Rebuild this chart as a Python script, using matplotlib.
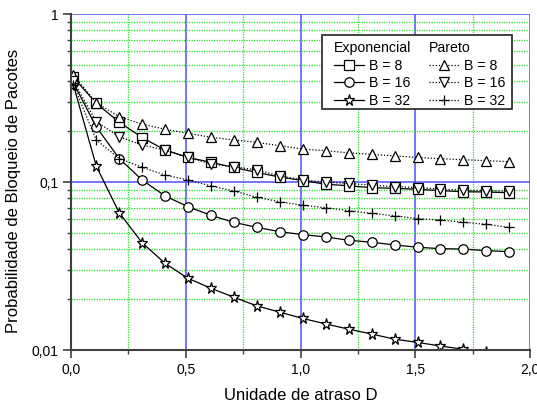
import matplotlib
matplotlib.use("Agg")
import matplotlib.pyplot as plt
from matplotlib.patches import Rectangle
from matplotlib.ticker import FixedLocator, NullFormatter

plt.rcParams['font.family'] = ['Liberation Sans', 'DejaVu Sans']

x = [0.01, 0.11, 0.21, 0.31, 0.41, 0.51, 0.61, 0.71, 0.81, 0.91,
     1.01, 1.11, 1.21, 1.31, 1.41, 1.51, 1.61, 1.71, 1.81, 1.91]

exp_b8 = [0.42, 0.294, 0.227, 0.184, 0.155, 0.140, 0.131, 0.122, 0.114, 0.107,
          0.102, 0.097, 0.095, 0.0925, 0.0917, 0.0905, 0.0888, 0.0875, 0.0872, 0.0863]
exp_b16 = [0.39, 0.213, 0.138, 0.1028, 0.0826, 0.0713, 0.0633, 0.0575, 0.0537, 0.0506,
           0.0486, 0.0471, 0.045, 0.0438, 0.0422, 0.0409, 0.0401, 0.0399, 0.039, 0.0385]
exp_b32 = [0.38, 0.1245, 0.0656, 0.0435, 0.0328, 0.0267, 0.0233, 0.0206, 0.0183, 0.0168,
           0.0154, 0.0143, 0.0133, 0.01245, 0.0116, 0.0111, 0.01056, 0.0101, 0.0097, 0.0094]

par_b8 = [0.435, 0.296, 0.245, 0.221, 0.206, 0.195, 0.1845, 0.178, 0.172, 0.1645,
          0.157, 0.1536, 0.149, 0.146, 0.143, 0.140, 0.1376, 0.1358, 0.134, 0.132]
par_b16 = [0.40, 0.229, 0.186, 0.166, 0.155, 0.140, 0.128, 0.123, 0.118, 0.1086,
           0.103, 0.100, 0.098, 0.0958, 0.094, 0.0926, 0.0909, 0.0895, 0.0888, 0.0880]
par_b32 = [0.38, 0.178, 0.138, 0.1223, 0.110, 0.1028, 0.0948, 0.0884, 0.081, 0.0763,
           0.0727, 0.0703, 0.0675, 0.065, 0.063, 0.0605, 0.0594, 0.0575, 0.056, 0.0537]

series_labels = ["B = 8", "B = 16", "B = 32"]
xticks = [0.0, 0.5, 1.0, 1.5, 2.0]
xticklabels = ["0,0", "0,5", "1,0", "1,5", "2,0"]
yticks = [0.01, 0.1, 1]
yticklabels = ["0,01", "0,1", "1"]

fig = plt.figure(figsize=(5.37, 4.04), dpi=100)
ax = fig.add_axes([71/537, 1-350/404, (530-71)/537, (350-14)/404])
ax.set_yscale('log')
ax.set_xlim(0, 2.0)
ax.set_ylim(0.01, 1)

ax.xaxis.set_major_locator(FixedLocator(xticks))
ax.set_xticklabels(xticklabels)
ax.xaxis.set_minor_locator(FixedLocator([0.25, 0.75, 1.25, 1.75]))
ax.yaxis.set_major_locator(FixedLocator(yticks))
ax.set_yticklabels(yticklabels)
ax.yaxis.set_minor_locator(FixedLocator([m * d for d in (0.01, 0.1) for m in range(2, 10)]))
ax.yaxis.set_minor_formatter(NullFormatter())

ax.grid(which='major', color='#5050ff', linestyle='-', linewidth=1.1)
ax.grid(which='minor', color='#22e022', linestyle=(0, (1, 1)), linewidth=0.9)
ax.set_axisbelow(True)

for s in ('top', 'right'):
    ax.spines[s].set_visible(False)
for s in ('left', 'bottom'):
    ax.spines[s].set_color('#404040')
    ax.spines[s].set_linewidth(1.5)
ax.tick_params(which='major', direction='out', length=6, width=1.2, color='#404040',
               labelsize=10, pad=3)
ax.tick_params(which='minor', direction='out', length=3, width=1.0, color='#404040')

ms = 6.8
common = dict(color='black', linewidth=0.9, markerfacecolor='white',
              markeredgecolor='black', markeredgewidth=0.9, markersize=ms)
dot = (0, (1, 1.5))
h1, = ax.plot(x, exp_b8, linestyle='-', marker='s', **common)
h2, = ax.plot(x, exp_b16, linestyle='-', marker='o', **common)
h3, = ax.plot(x, exp_b32, linestyle='-', marker='*', **dict(common, markersize=ms + 1.5))
p1, = ax.plot(x, par_b8, linestyle=dot, marker='^', **dict(common, markersize=ms + 0.5))
p2, = ax.plot(x, par_b16, linestyle=dot, marker='v', **dict(common, markersize=ms + 0.5))
p3, = ax.plot(x, par_b32, linestyle=dot, marker='+', **dict(common, markersize=ms + 0.5))

ax.set_xlabel("Unidade de atraso D", fontsize=12, labelpad=8)
ax.set_ylabel("Probabilidade de Bloqueio de Pacotes", fontsize=12)
ax.yaxis.set_label_coords((21 - 71) / 459, (350 - 191) / 336)

# legend frame
box = Rectangle((322/537, 1-109/404), (512-322)/537, (109-35)/404,
                transform=fig.transFigure, facecolor='white', edgecolor='#222222',
                linewidth=1.2, zorder=5, clip_on=False)
ax.add_patch(box)

leg_kw = dict(frameon=False, fontsize=10.2, title_fontsize=10.2, alignment='left',
              handlelength=2.1, handletextpad=0.4, labelspacing=0.25,
              borderpad=0.0, borderaxespad=0.0, loc='upper left')
leg1 = ax.legend([h1, h2, h3], series_labels, title="Exponencial",
                 bbox_to_anchor=(334/537, 1-41/404), bbox_transform=fig.transFigure, **leg_kw)
leg1.set_zorder(6)
ax.add_artist(leg1)
leg2 = ax.legend([p1, p2, p3], series_labels, title="Pareto",
                 bbox_to_anchor=(429/537, 1-41/404), bbox_transform=fig.transFigure, **leg_kw)
leg2.set_zorder(6)

fig.savefig("out.png", dpi=100)
